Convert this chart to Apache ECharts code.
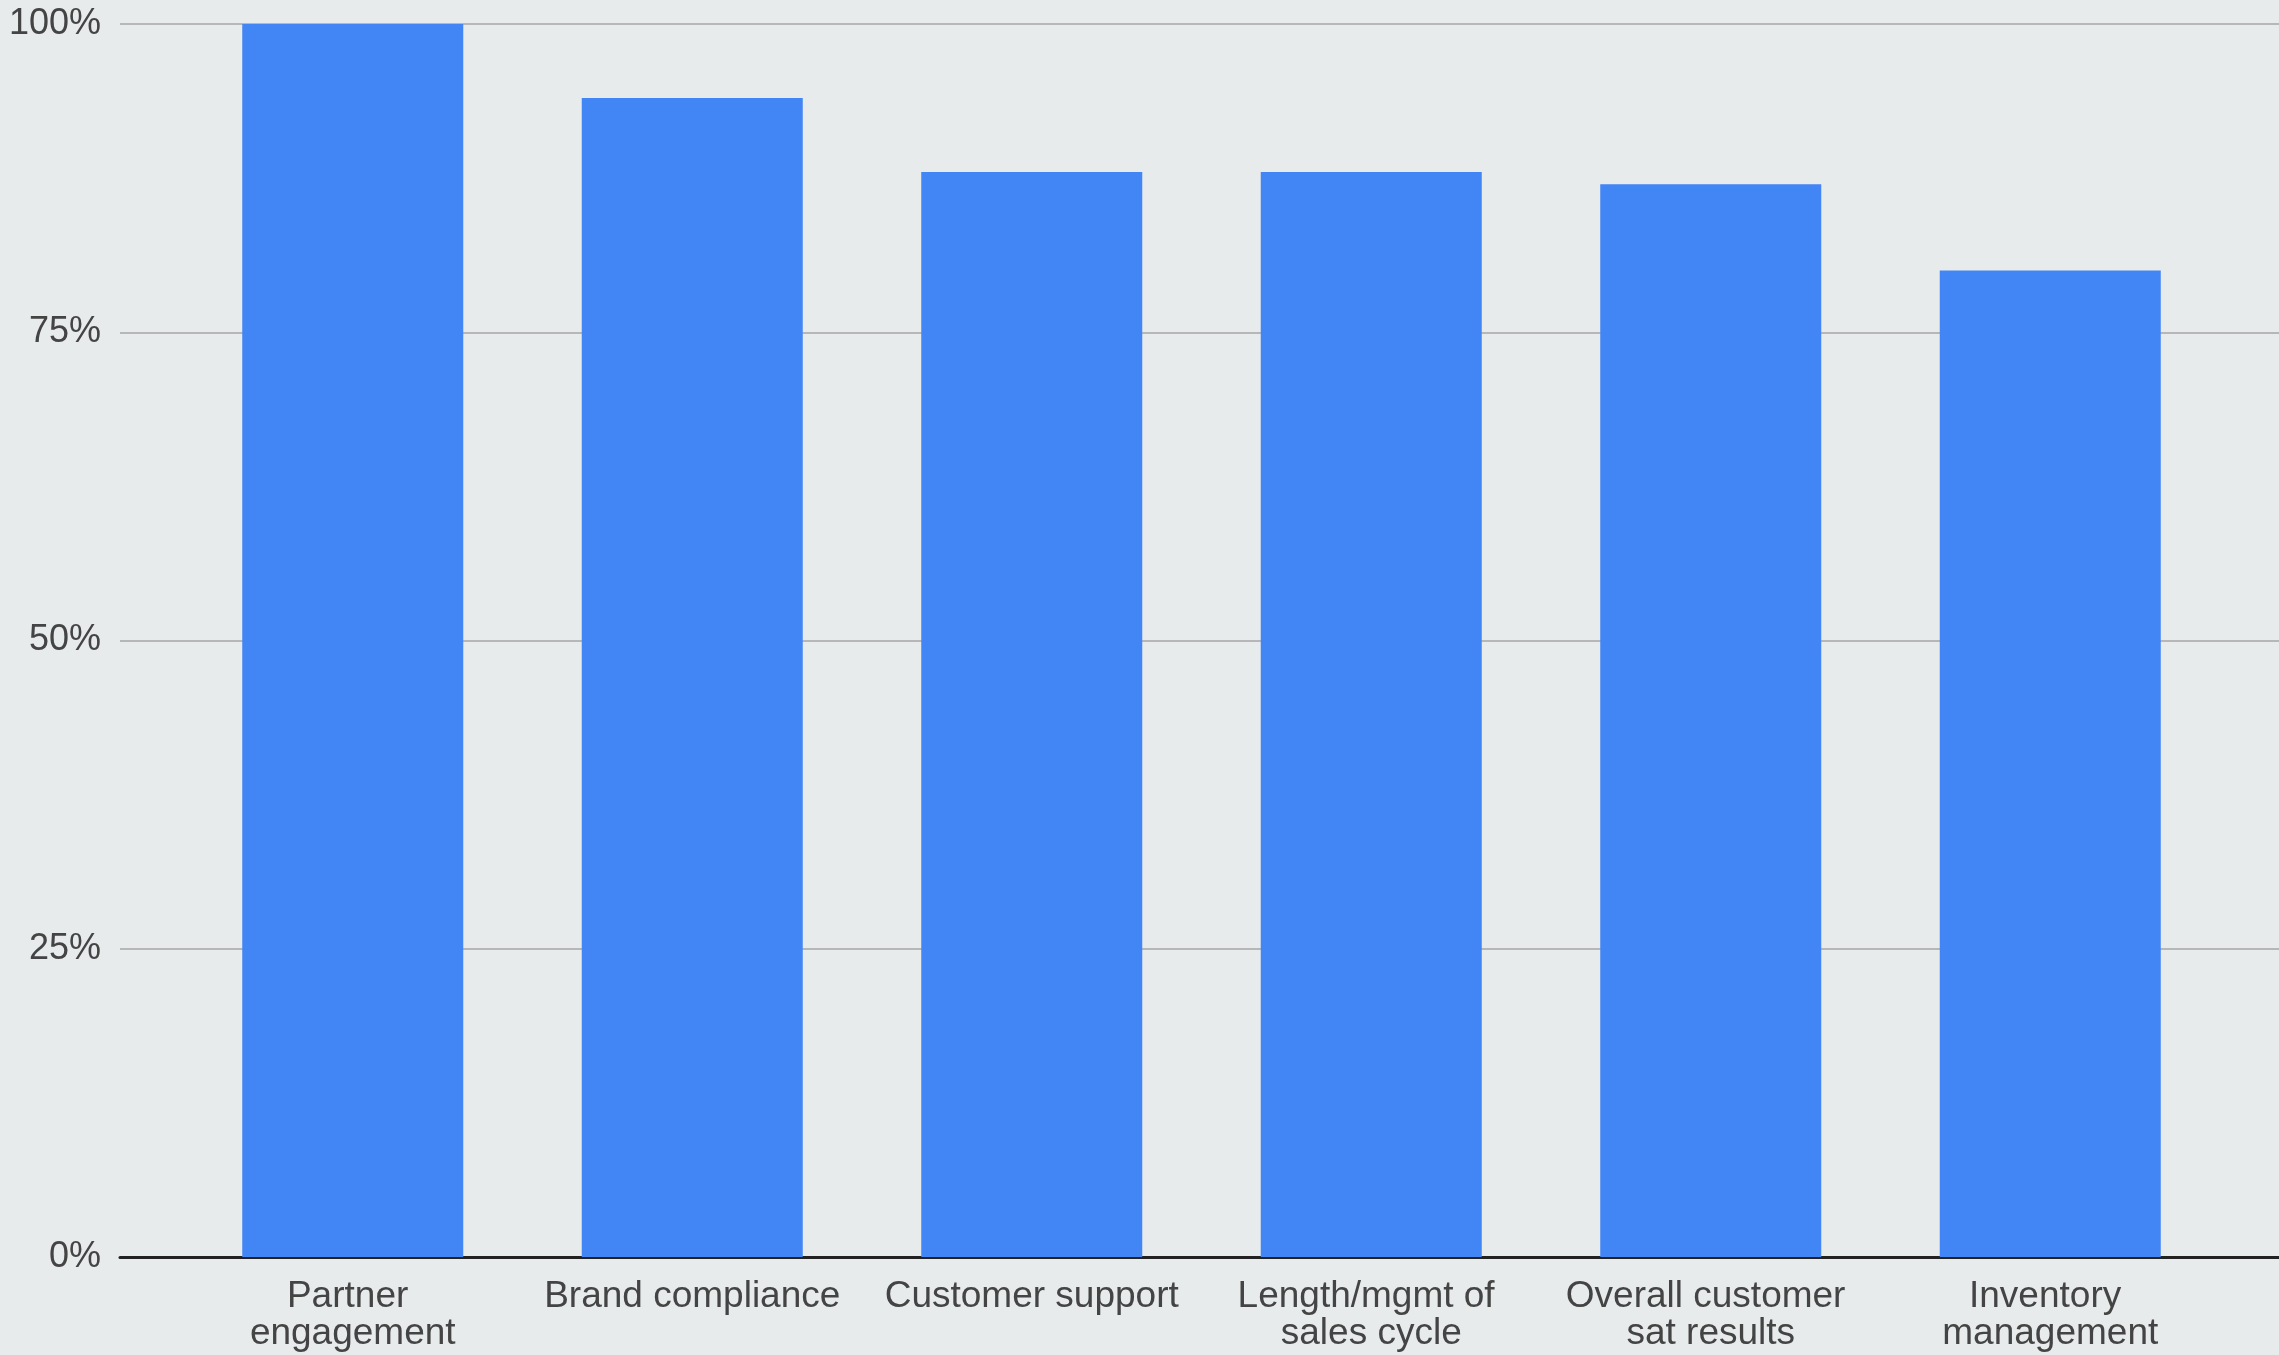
<!DOCTYPE html>
<html>
<head>
<meta charset="utf-8">
<script src="https://cdn.jsdelivr.net/npm/echarts@6/dist/echarts.min.js"></script>
<style>
  html, body { margin: 0; padding: 0; background: #e7ebec; }
  #chart { width: 2279px; height: 1355px; }
</style>
</head>
<body>
<div id="chart"></div>
<script>
// Share of respondents per area
const categories = [
  'Partner engagement',
  'Brand compliance',
  'Customer support',
  'Length/mgmt of sales cycle',
  'Overall customer sat results',
  'Inventory management'
];
const shares = [1.00, 0.94, 0.88, 0.88, 0.87, 0.80];
const yTicks = [0, 0.25, 0.5, 0.75, 1];

const FONT = '"Liberation Sans", Arial, sans-serif';
const TEXT = '#444444';

const chart = echarts.init(document.getElementById('chart'), null, { renderer: 'canvas' });

chart.setOption({
  backgroundColor: '#e7ebec',
  animation: false,
  grid: [
    // outer frame: gridlines, percent labels and baseline span the full width
    { left: 120, right: 0, top: 24, bottom: 98 },
    // inner frame: bars and category labels
    { left: 183, right: 59, top: 24, bottom: 98 }
  ],
  xAxis: [
    {
      gridIndex: 0, type: 'value', min: 0, max: 1,
      axisLine: { show: true, lineStyle: { color: '#222222', width: 3 } },
      axisTick: { show: false }, axisLabel: { show: false }, splitLine: { show: false }
    },
    {
      gridIndex: 1, type: 'category', data: categories,
      axisLine: { show: false }, axisTick: { show: false },
      axisLabel: {
        interval: 0, margin: 21, color: TEXT, fontFamily: FONT, fontSize: 37,
        lineHeight: 37, width: 310, overflow: 'break', align: 'center'
      }
    }
  ],
  yAxis: [
    {
      gridIndex: 0, type: 'value', min: yTicks[0], max: yTicks[yTicks.length - 1],
      interval: yTicks[1] - yTicks[0],
      axisLine: { show: false }, axisTick: { show: false },
      axisLabel: {
        margin: 19, color: TEXT, fontFamily: FONT, fontSize: 36,
        formatter: v => Math.round(v * 100) + '%'
      },
      splitLine: { show: true, lineStyle: { color: '#b7b7b7', width: 2 } }
    },
    {
      gridIndex: 1, type: 'value', min: yTicks[0], max: yTicks[yTicks.length - 1],
      show: false, splitLine: { show: false }
    }
  ],
  series: [{
    type: 'bar',
    xAxisIndex: 1, yAxisIndex: 1,
    data: shares,
    barWidth: 221,
    itemStyle: { color: '#4285f4' }
  }]
});
</script>
</body>
</html>
